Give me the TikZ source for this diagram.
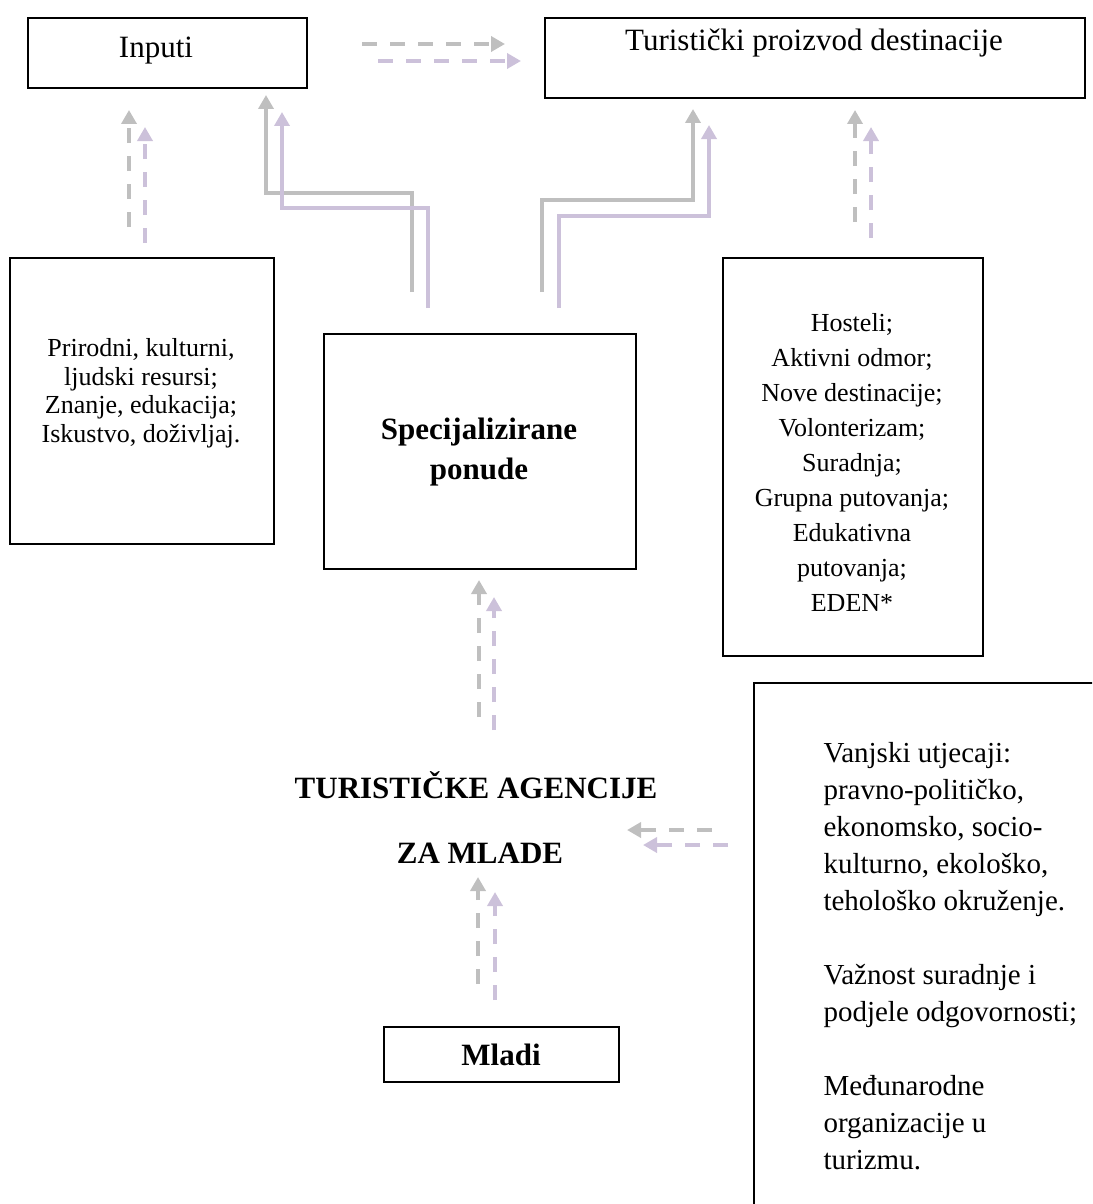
\documentclass[tikz,border=0pt]{standalone}
\usepackage{fontspec}
\setmainfont{Liberation Serif}
\usetikzlibrary{arrows.meta}
\definecolor{agray}{HTML}{BFBFBF}
\definecolor{apurple}{HTML}{CCC1DA}
\begin{document}
\begin{tikzpicture}[x=1pt,y=-1pt,
  box/.style={draw=black,line width=1.8pt,inner sep=0pt,anchor=north west},
  gline/.style={draw=agray,line width=4pt,-{Triangle[width=15pt,length=14pt]}},
  pline/.style={draw=apurple,line width=4pt,-{Triangle[width=15pt,length=14pt]}},
  dashpat/.style={dash pattern=on 15pt off 13pt},
  titlefont/.style={font=\fontsize{31}{36}\selectfont},
  boldfont/.style={font=\bfseries\fontsize{31}{40}\selectfont},
]
\useasboundingbox (0,0) rectangle (1092,1204);
\clip (0,0) rectangle (1092,1204);

% boxes
\node[box,minimum width=279pt,minimum height=70pt] (inputi) at (27,17) {};
\node[box,minimum width=540pt,minimum height=80pt] (proizvod) at (544,17) {};
\node[box,minimum width=264pt,minimum height=286pt] (resursi) at (9,257) {};
\node[box,minimum width=312pt,minimum height=235pt] (ponude) at (323,333) {};
\node[box,minimum width=260pt,minimum height=398pt] (hosteli) at (722,257) {};
\node[box,minimum width=235pt,minimum height=55pt] (mladi) at (383,1026) {};
\node[box,minimum width=400pt,minimum height=600pt] (vanjski) at (753,682) {};

% texts
\node[titlefont,anchor=base] (tinputi) at (156,58) {Inputi};
\node[titlefont,anchor=base] (tproizvod) at (814,51) {Turistički proizvod destinacije};
\node[align=center,font=\fontsize{26}{28.5}\selectfont] (tresursi) at (141,393)
  {Prirodni, kulturni,\\ ljudski resursi;\\ Znanje, edukacija;\\ Iskustvo, doživljaj.};
\node[align=center,boldfont] (tponude) at (479,452) {Specijalizirane\\ ponude};
\node[align=center,font=\fontsize{26}{35}\selectfont] (thosteli) at (852,462)
  {Hosteli;\\ Aktivni odmor;\\ Nove destinacije;\\ Volonterizam;\\ Suradnja;\\ Grupna putovanja;\\ Edukativna\\ putovanja;\\ EDEN*};
\node[boldfont,anchor=base] (tagencije) at (476,798) {TURISTIČKE AGENCIJE};
\node[boldfont,anchor=base] (tmlade) at (480,863) {ZA MLADE};
\node[boldfont,anchor=base] (tmladi) at (501,1065) {Mladi};
\node[align=left,anchor=west,font=\fontsize{29}{37}\selectfont] (tvanjski) at (820,956)
  {Vanjski utjecaji:\\ pravno-političko,\\ ekonomsko, socio-\\ kulturno, ekološko,\\ tehološko okruženje.\\[37pt]
   Važnost suradnje i\\ podjele odgovornosti;\\[37pt]
   Međunarodne\\ organizacije u\\ turizmu.};

% connector end points
\coordinate (a1s) at (129,227); \coordinate (a1e) at (129,110);
\coordinate (b1s) at (145,243); \coordinate (b1e) at (145,127);
\coordinate (a2s) at (855,222); \coordinate (a2e) at (855,110);
\coordinate (b2s) at (871,238); \coordinate (b2e) at (871,127);
\coordinate (a3s) at (362,44); \coordinate (a3e) at (505,44);
\coordinate (b3s) at (378,61); \coordinate (b3e) at (521,61);
\coordinate (a4s) at (479,717); \coordinate (a4e) at (479,580);
\coordinate (b4s) at (494,730); \coordinate (b4e) at (494,597);
\coordinate (a5s) at (478,984); \coordinate (a5e) at (478,877);
\coordinate (b5s) at (495,1000); \coordinate (b5e) at (495,892);
\coordinate (a6s) at (712,830); \coordinate (a6e) at (627,830);
\coordinate (b6s) at (728,845); \coordinate (b6e) at (643,845);
\coordinate (g1s) at (412,292); \coordinate (g1e) at (266,95);
\coordinate (p1s) at (428,308); \coordinate (p1e) at (282,112);
\coordinate (g2s) at (542,292); \coordinate (g2e) at (693,109);
\coordinate (p2s) at (559,308); \coordinate (p2e) at (709,125);

% dashed arrows
\foreach \n in {1,...,6}{
  \draw[gline,dashpat] (a\n s) -- (a\n e);
  \draw[pline,dashpat] (b\n s) -- (b\n e);
}
% solid bent arrows
\draw[gline] (g1s) -- (g1s |- 0,193) -- (g1e |- 0,193) -- (g1e);
\draw[pline] (p1s) -- (p1s |- 0,208) -- (p1e |- 0,208) -- (p1e);
\draw[gline] (g2s) -- (g2s |- 0,200) -- (g2e |- 0,200) -- (g2e);
\draw[pline] (p2s) -- (p2s |- 0,216) -- (p2e |- 0,216) -- (p2e);
\end{tikzpicture}
\end{document}
